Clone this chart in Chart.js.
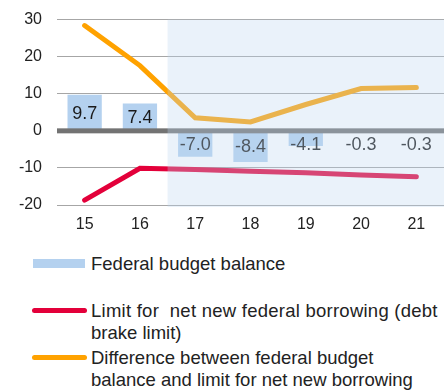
<!DOCTYPE html>
<html>
<head>
<meta charset="utf-8">
<script src="https://cdn.jsdelivr.net/npm/chart.js@4"></script>
<style>
  html, body { margin: 0; padding: 0; background: #fff; }
  body { width: 444px; height: 390px; position: relative; overflow: hidden;
         font-family: "Liberation Sans", Arial, sans-serif; color: #222; }
  #wrap { position: absolute; left: 0; top: -5px; width: 444px; height: 245px; }
  .item { position: absolute; left: 0; font-size: 18.5px; line-height: 22px; }
  .key { position: absolute; left: 32px; width: 55px; }
  .txt { position: absolute; left: 91px; white-space: nowrap; }
</style>
</head>
<body>
<div id="wrap"><canvas id="budgetChart"></canvas></div>

<div class="item" style="top:253px">
  <div class="key" style="top:6px;height:9px;background:#b4d1ef;left:33px;width:52px"></div>
  <div class="txt">Federal budget balance</div>
</div>
<div class="item" style="top:300px">
  <div class="key" style="top:8px;height:5px;border-radius:3px;background:#e3003a"></div>
  <div class="txt"><span style="letter-spacing:0.25px">Limit for&nbsp; net new federal borrowing (debt</span><br>brake limit)</div>
</div>
<div class="item" style="top:347px">
  <div class="key" style="top:8px;height:5px;border-radius:3px;background:#ffa200"></div>
  <div class="txt">Difference between federal budget<br>balance and limit for net new borrowing</div>
</div>

<script>
const years = ["15", "16", "17", "18", "19", "20", "21"];
const budgetBalance = [9.7, 7.4, -7.0, -8.4, -4.1, -0.3, -0.3];
const debtBrakeLimit = [-18.7, -10.1, -10.4, -10.9, -11.3, -11.9, -12.4];
const difference = [28.4, 17.6, 3.5, 2.4, 7.1, 11.4, 11.7];
const yTicks = [30, 20, 10, 0, -10, -20];
const forecastFrom = "17";

// zero line, value labels and the shaded forecast area
const extras = {
  id: "extras",
  afterDatasetsDraw(chart) {
    const { ctx, chartArea, scales } = chart;
    const y0 = scales.y.getPixelForValue(0);
    ctx.save();
    ctx.fillStyle = "#737373";
    ctx.fillRect(chartArea.left, y0 - 2.5, chartArea.right - chartArea.left, 5);

    ctx.font = "18px 'Liberation Sans', Arial, sans-serif";
    ctx.fillStyle = "#1a1a1a";
    ctx.textAlign = "center";
    ctx.textBaseline = "middle";
    chart.getDatasetMeta(0).data.forEach((bar, i) => {
      const v = budgetBalance[i];
      let y = (bar.y + y0) / 2;
      if (v < 0) y = Math.max(y, y0 + 13);
      ctx.fillText(v.toFixed(1), bar.x, y + 1);
    });
    ctx.restore();
  },
  afterDraw(chart) {
    const { ctx, chartArea, scales } = chart;
    const i = years.indexOf(forecastFrom);
    const x = (scales.x.getPixelForValue(i - 1) + scales.x.getPixelForValue(i)) / 2;
    ctx.save();
    ctx.fillStyle = "rgba(190, 214, 238, 0.32)";
    ctx.fillRect(x, chartArea.top, chartArea.right - x, chartArea.bottom - chartArea.top + 2);
    ctx.restore();
  }
};

new Chart(document.getElementById("budgetChart"), {
  data: {
    labels: years,
    datasets: [
      {
        type: "bar",
        data: budgetBalance,
        backgroundColor: "#b4d1ef",
        barPercentage: 0.62,
        categoryPercentage: 1,
        order: 3
      },
      {
        type: "line",
        data: debtBrakeLimit,
        borderColor: "#e3003a",
        borderWidth: 5,
        borderCapStyle: "round",
        pointRadius: 0,
        tension: 0,
        order: 2
      },
      {
        type: "line",
        data: difference,
        borderColor: "#ffa200",
        borderWidth: 5,
        borderCapStyle: "round",
        pointRadius: 0,
        tension: 0,
        order: 1
      }
    ]
  },
  options: {
    responsive: true,
    maintainAspectRatio: false,
    animation: false,
    layout: { padding: { top: 8, right: 0, left: 0, bottom: 0 } },
    plugins: {
      legend: { display: false },
      tooltip: { enabled: false }
    },
    scales: {
      x: {
        grid: { display: false },
        border: { display: false },
        ticks: {
          color: "#222",
          padding: 2,
          font: { family: "'Liberation Sans', Arial, sans-serif", size: 16 }
        },
        afterFit(scale) { scale.height = 35; }
      },
      y: {
        min: -20,
        max: 30,
        afterBuildTicks(scale) { scale.ticks = yTicks.map(v => ({ value: v })); },
        grid: {
          color: "#a6a6a6",
          lineWidth: c => (c.tick && c.tick.value === 0 ? 0 : 1),
          drawTicks: false
        },
        border: { display: false },
        ticks: {
          color: "#222",
          padding: 15,
          font: { family: "'Liberation Sans', Arial, sans-serif", size: 16 }
        },
        afterFit(scale) { scale.width = 57; }
      }
    }
  },
  plugins: [extras]
});
</script>
</body>
</html>
